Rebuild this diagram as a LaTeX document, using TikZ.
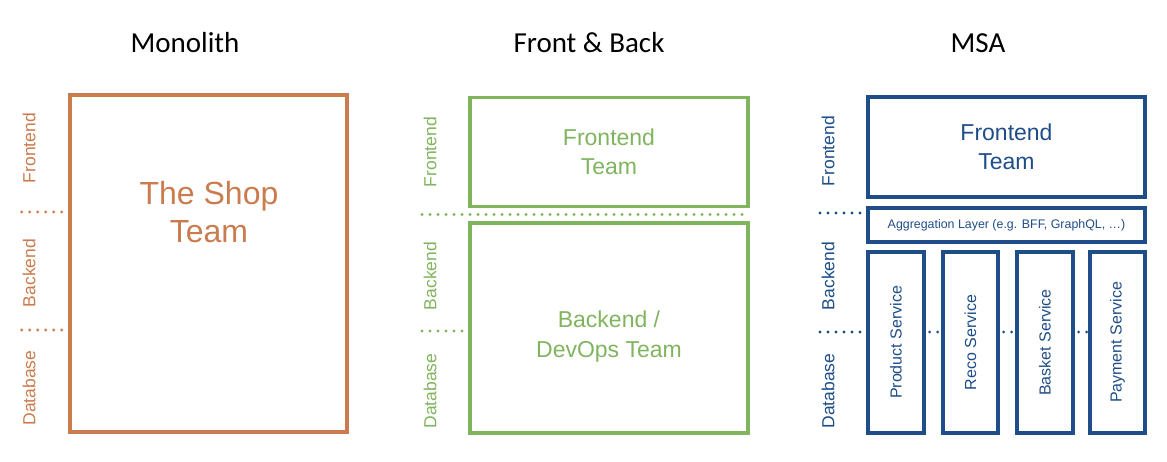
\documentclass[tikz,border=0pt]{standalone}
\usepackage{fontspec}
\setmainfont{Liberation Sans}
\newfontfamily\titlefont{Carlito}
\usetikzlibrary{positioning}
\definecolor{shoporange}{HTML}{CB7C4E}
\definecolor{fbgreen}{HTML}{80B45E}
\definecolor{msablue}{HTML}{1F4D88}
\tikzset{
  teambox/.style={draw=#1, text=#1, line width=3.3pt, inner sep=0pt, align=center},
  layerlabel/.style={text=#1, rotate=90, inner sep=0pt, font=\fontsize{17.5}{20}\selectfont},
  dotline/.style={draw=#1, line width=3.1pt, line cap=round, dash pattern=on 0pt off 8pt},
  title/.style={anchor=base, font=\titlefont\fontsize{29}{34}\selectfont},
}
\begin{document}
\begin{tikzpicture}[x=1pt,y=-1pt]
\useasboundingbox (0,0) rectangle (1167,462);

% titles
\node[title] (t1) at (185,53) {Monolith};
\node[title] (t2) at (589,53) {Front \& Back};
\node[title] (t3) at (978,53) {MSA};

% monolith
\node[teambox=shoporange, minimum width=277pt, minimum height=337pt] (shop) at (208.5,263.5) {};
\node[text=shoporange, align=center, font=\fontsize{32}{38}\selectfont] (shoptxt) at (209,212.5) {The Shop\\Team};
\node[layerlabel=shoporange] (mfe) at (29,148) {Frontend};
\node[layerlabel=shoporange] (mbe) at (29,273) {Backend};
\node[layerlabel=shoporange] (mdb) at (29,388) {Database};
\coordinate (m1) at (21.7,212);
\coordinate (m2) at (21.7,330);
\draw[dotline=shoporange] (m1) -- (m1 -| shop.west);
\draw[dotline=shoporange] (m2) -- (m2 -| shop.west);

% front & back
\node[teambox=fbgreen, minimum width=278pt, minimum height=109pt, font=\fontsize{23}{29}\selectfont] (fbfront) at (609,152) {Frontend\\Team};
\node[teambox=fbgreen, minimum width=278pt, minimum height=210pt] (fbback) at (609,328) {};
\node[text=fbgreen, align=center, font=\fontsize{23}{30}\selectfont] (fbbacktxt) at (609,337) {Backend /\\DevOps Team};
\node[layerlabel=fbgreen] (ffe) at (430,152) {Frontend};
\node[layerlabel=fbgreen] (fbe) at (430,276) {Backend};
\node[layerlabel=fbgreen] (fdb) at (430,391) {Database};
\coordinate (f1) at (422,214.5);
\coordinate (f2) at (422,331);
\draw[dotline=fbgreen] (f1) -- (f1 -| fbfront.east);
\draw[dotline=fbgreen] (f2) -- (f2 -| fbback.west);

% msa
\node[teambox=msablue, minimum width=277pt, minimum height=100pt, font=\fontsize{23}{29}\selectfont] (msafront) at (1006.5,147) {Frontend\\Team};
\node[teambox=msablue, minimum width=277pt, minimum height=34pt, font=\fontsize{12.4}{15}\selectfont] (agg) at (1006.5,225) {Aggregation Layer (e.g. BFF, GraphQL, \ldots)};
\node[teambox=msablue, minimum width=56pt, minimum height=181pt] (prod) at (896,342.5) {};
\node[teambox=msablue, minimum width=55pt, minimum height=181pt] (reco) at (970.5,342.5) {};
\node[teambox=msablue, minimum width=56pt, minimum height=181pt] (basket) at (1045,342.5) {};
\node[teambox=msablue, minimum width=55pt, minimum height=181pt] (pay) at (1117.5,342.5) {};
\foreach \s/\t in {prod/Product Service, reco/Reco Service, basket/Basket Service, pay/Payment Service}
  \node[layerlabel=msablue, font=\fontsize{16}{19}\selectfont] (\s txt) at (\s) {\t};
\node[layerlabel=msablue] (sfe) at (828,151) {Frontend};
\node[layerlabel=msablue] (sbe) at (828,276) {Backend};
\node[layerlabel=msablue] (sdb) at (828,391) {Database};
\coordinate (s1) at (820,213);
\coordinate (s2) at (820,332);
\draw[dotline=msablue] (s1) -- (s1 -| agg.west);
\draw[dotline=msablue] (s2) -- (s2 -| prod.west);
\draw[dotline=msablue] (s2 -| prod.east) ++(4,0) -- (s2 -| reco.west);
\draw[dotline=msablue] (s2 -| reco.east) ++(4,0) -- (s2 -| basket.west);
\draw[dotline=msablue] (s2 -| basket.east) ++(4,0) -- (s2 -| pay.west);
\end{tikzpicture}
\end{document}
